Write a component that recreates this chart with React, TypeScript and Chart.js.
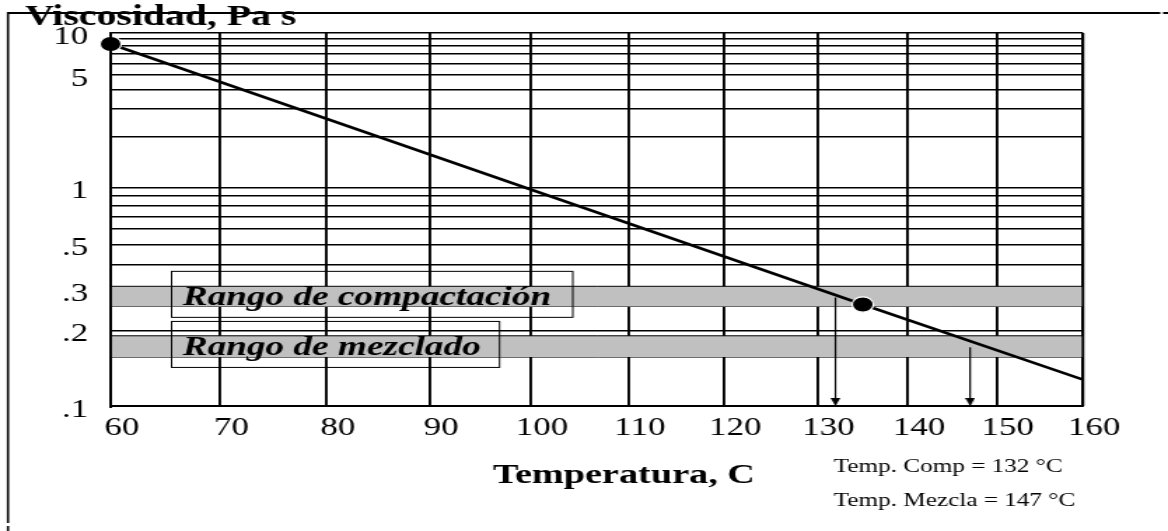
import React, { useEffect, useRef } from 'react';
import { Chart, registerables, LinearScale } from 'chart.js';

// ---- chart values ----
const TEMPERATURES_C = [60, 70, 80, 90, 100, 110, 120, 130, 140, 150, 160];
const VISCOSITY_GRID = [0.1, 0.2, 0.3, 0.4, 0.5, 0.6, 0.7, 0.8, 0.9, 1, 2, 3, 4, 5, 6, 7, 8, 9, 10];
const VISCOSITY_LABELED = [10, 5, 1, 0.5, 0.3, 0.2, 0.1];
const VISCOSITY_LABEL_TEXT = ['10', '5', '1', '.5', '.3', '.2', '.1'];

// viscosity-temperature line of the binder (Pa s)
const CURVE_TEMPS = [60, 135, 160];
const CURVE_VISC = [8.3, 0.26, 0.126];

// target viscosity ranges (Pa s)
const COMPACTION_RANGE = [0.255, 0.315];
const MIXING_RANGE = [0.155, 0.19];
const RANGE_NAMES = ['Rango de compactación', 'Rango de mezclado'];

// temperatures for each range
const TARGET_TEMPS = [132, 147];
const TARGET_VISC = [0.28, 0.17];
const TARGET_NAMES = ['Temp. Comp', 'Temp. Mezcla'];

// ---- canvas geometry ----
const PAGE_W = 1168;
const PAGE_H = 531;
const CANVAS_W = 834; // drawn narrow, then widened horizontally to the page width
const WIDEN = PAGE_W / CANVAS_W;

const SERIF = "'Liberation Serif', 'Times New Roman', serif";

// Scales whose pixel position follows a transformed value
function transformedScale(id: string, fwd: (v: number) => number, inv: (t: number) => number) {
  class TransformedScale extends LinearScale {
    getPixelForValue(value: number) {
      const a = fwd(this.min as number);
      const b = fwd(this.max as number);
      return this.getPixelForDecimal((fwd(value) - a) / (b - a));
    }
    getValueForPixel(pixel: number) {
      const a = fwd(this.min as number);
      const b = fwd(this.max as number);
      return inv(a + this.getDecimalForPixel(pixel) * (b - a));
    }
  }
  (TransformedScale as any).id = id;
  (TransformedScale as any).defaults = LinearScale.defaults;
  return TransformedScale;
}

// temperature axis: log of absolute temperature
const LogKelvinScale = transformedScale(
  'logKelvin',
  (c) => Math.log10(c + 273.15),
  (t) => Math.pow(10, t) - 273.15
);
// viscosity axis: log-log of viscosity in mPa s
const LogLogScale = transformedScale(
  'logLog',
  (v) => Math.log10(Math.log10(v * 1000)),
  (t) => Math.pow(10, Math.pow(10, t)) / 1000
);

Chart.register(...registerables, LogKelvinScale as any, LogLogScale as any);

function makeArrowHead(): HTMLCanvasElement {
  const c = document.createElement('canvas');
  c.width = 7;
  c.height = 18;
  const g = c.getContext('2d')!;
  g.fillStyle = '#000';
  g.beginPath();
  g.moveTo(0, 1);
  g.lineTo(7, 1);
  g.lineTo(3.5, 9);
  g.closePath();
  g.fill();
  return c;
}

const decorations = {
  id: 'decorations',
  beforeDraw(chart: any) {
    const { ctx } = chart;
    ctx.save();
    ctx.strokeStyle = '#000';
    ctx.lineWidth = 2;
    ctx.beginPath();
    ctx.moveTo(5.7, 13);
    ctx.lineTo(828.5, 13);
    ctx.moveTo(830.5, 13);
    ctx.lineTo(CANVAS_W, 13);
    ctx.stroke();
    ctx.lineWidth = 1.6;
    ctx.beginPath();
    ctx.moveTo(5.7, 12);
    ctx.lineTo(5.7, 523);
    ctx.moveTo(5.7, 526);
    ctx.lineTo(5.7, PAGE_H);
    ctx.stroke();
    ctx.restore();
  },
  afterDatasetsDraw(chart: any) {
    const { ctx, chartArea: a } = chart;
    ctx.save();
    ctx.strokeStyle = '#000';
    ctx.lineWidth = 1.9;
    ctx.beginPath();
    ctx.moveTo(a.left, a.top);
    ctx.lineTo(a.left, a.bottom + 2);
    ctx.moveTo(a.right, a.top);
    ctx.lineTo(a.right, a.bottom);
    ctx.stroke();
    ctx.restore();
  },
  afterDraw(chart: any) {
    const { ctx, chartArea: a } = chart;
    const y = chart.scales.y;
    ctx.save();
    ctx.fillStyle = '#000';
    ctx.strokeStyle = '#000';
    ctx.textBaseline = 'alphabetic';

    // range labels in outlined boxes
    const ranges = [COMPACTION_RANGE, MIXING_RANGE];
    const boxWidths = [286.5, 234.2];
    ranges.forEach((r, i) => {
      const cy = (y.getPixelForValue(r[0]) + y.getPixelForValue(r[1])) / 2;
      ctx.lineWidth = 1;
      ctx.strokeRect(a.left + 43.5, cy - 25, boxWidths[i], 46);
      ctx.font = `italic bold 26.6px ${SERIF}`;
      ctx.fillText(RANGE_NAMES[i], a.left + 51.5, cy + 8.5);
    });

    // axis titles
    ctx.font = `bold 28.4px ${SERIF}`;
    ctx.fillText('Viscosidad, Pa s', 17.9, 25);
    ctx.font = `bold 27.3px ${SERIF}`;
    ctx.fillText('Temperatura, C', 352, 482.7);

    // resulting temperatures
    ctx.font = `18px ${SERIF}`;
    ctx.fillText(`${TARGET_NAMES[0]} = ${TARGET_TEMPS[0]} °C`, 595.2, 471.7);
    ctx.fillText(`${TARGET_NAMES[1]} = ${TARGET_TEMPS[1]} °C`, 595.2, 505.7);
    ctx.restore();
  },
};

export default function App() {
  const ref = useRef<HTMLCanvasElement | null>(null);

  useEffect(() => {
    const canvas = ref.current;
    if (!canvas) return;
    const arrowHead = makeArrowHead();
    const tMin = TEMPERATURES_C[0];
    const tMax = TEMPERATURES_C[TEMPERATURES_C.length - 1];

    const band = (r: number[]) => [
      {
        data: [{ x: tMin, y: r[1] }, { x: tMax, y: r[1] }],
        fill: '+1',
        backgroundColor: '#c0c0c0',
        borderColor: '#000',
        borderWidth: 1,
        pointRadius: 0,
        order: 10,
      },
      {
        data: [{ x: tMin, y: r[0] }, { x: tMax, y: r[0] }],
        fill: false,
        borderColor: '#000',
        borderWidth: 1,
        pointRadius: 0,
        order: 10,
      },
    ];

    const arrows = TARGET_TEMPS.map((t, i) => ({
      data: [{ x: t, y: TARGET_VISC[i] }, { x: t, y: VISCOSITY_GRID[0] }],
      borderColor: '#000',
      borderWidth: 1.2,
      pointRadius: [0, 4],
      pointStyle: arrowHead,
      fill: false,
      clip: false,
      order: 2,
    }));

    const labelFor = (v: number) => {
      const i = VISCOSITY_LABELED.findIndex((x) => Math.abs(x - v) < 1e-9);
      return i >= 0 ? VISCOSITY_LABEL_TEXT[i] : '';
    };

    const chart = new Chart(canvas, {
      type: 'line',
      data: {
        datasets: [
          {
            data: CURVE_TEMPS.map((t, i) => ({ x: t, y: CURVE_VISC[i] })),
            borderColor: '#000',
            borderWidth: 2.6,
            pointRadius: [7.6, 7.6, 0],
            pointBackgroundColor: '#000',
            pointBorderColor: '#fff',
            pointBorderWidth: 1.2,
            fill: false,
            clip: false,
            order: 1,
          },
          ...arrows,
          ...band(COMPACTION_RANGE),
          ...band(MIXING_RANGE),
        ] as any,
      },
      options: {
        animation: false,
        responsive: false,
        devicePixelRatio: 1,
        events: [],
        layout: { padding: { left: 0, top: 33, right: 60.7, bottom: 0 } },
        elements: { line: { tension: 0 } },
        plugins: { legend: { display: false }, tooltip: { enabled: false } },
        scales: {
          x: {
            type: 'logKelvin' as any,
            min: tMin,
            max: tMax,
            bounds: 'data',
            afterBuildTicks: (s: any) => {
              s.ticks = TEMPERATURES_C.map((v) => ({ value: v }));
            },
            afterFit: (s: any) => {
              s.height = PAGE_H - 406;
            },
            grid: { color: '#000', lineWidth: 1.9, drawTicks: false, tickLength: 0 },
            border: { display: true, color: '#000', width: 2 },
            ticks: {
              autoSkip: false,
              maxRotation: 0,
              padding: 7.5,
              labelOffset: 8,
              color: '#000',
              font: { family: SERIF, size: 25 },
              callback: (v: any) => String(v),
            },
          },
          y: {
            type: 'logLog' as any,
            min: VISCOSITY_GRID[0],
            max: VISCOSITY_GRID[VISCOSITY_GRID.length - 1],
            bounds: 'data',
            afterBuildTicks: (s: any) => {
              s.ticks = VISCOSITY_GRID.map((v) => ({ value: v }));
            },
            afterFit: (s: any) => {
              s.width = 79;
            },
            grid: { color: '#000', lineWidth: 1.6, drawTicks: false, tickLength: 0 },
            border: { display: true, color: '#000', width: 1.9 },
            ticks: {
              autoSkip: false,
              padding: 16,
              labelOffset: 4,
              color: '#000',
              font: { family: SERIF, size: 25 },
              callback: (v: any) => labelFor(Number(v)),
            },
          },
        } as any,
      },
      plugins: [decorations],
    });

    return () => chart.destroy();
  }, []);

  return (
    <div
      style={{
        position: 'absolute',
        left: 0,
        top: 0,
        width: PAGE_W,
        height: PAGE_H,
        overflow: 'hidden',
        background: '#fff',
      }}
    >
      <canvas
        ref={ref}
        width={CANVAS_W}
        height={PAGE_H}
        style={{
          display: 'block',
          width: CANVAS_W,
          height: PAGE_H,
          transform: `scaleX(${WIDEN})`,
          transformOrigin: '0 0',
        }}
      />
    </div>
  );
}
